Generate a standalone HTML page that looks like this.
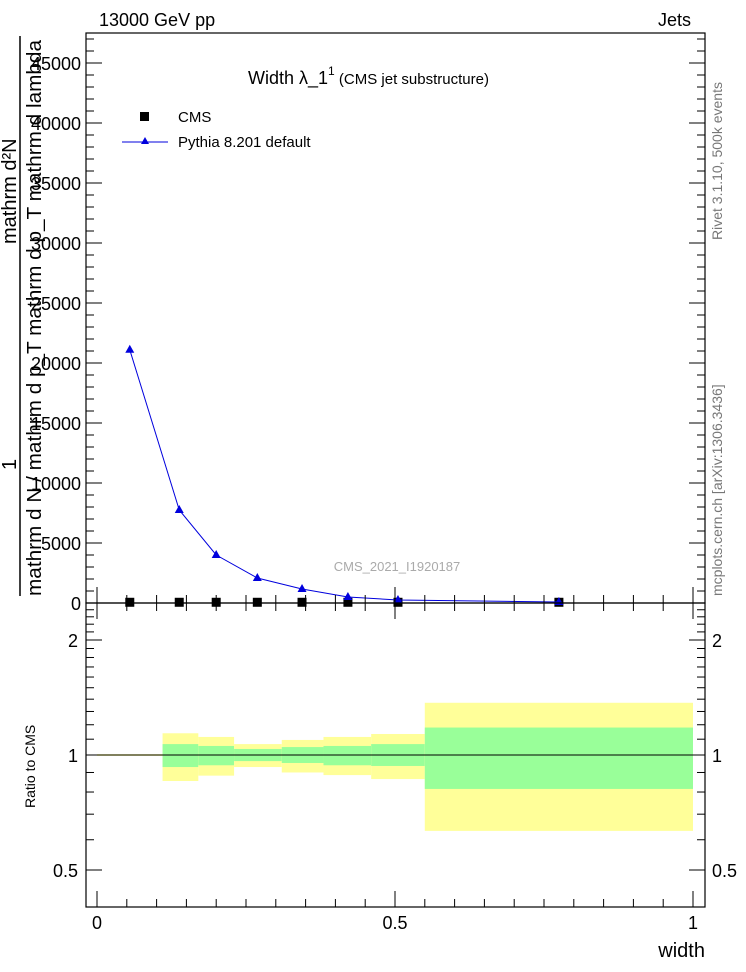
<!DOCTYPE html>
<html><head><meta charset="utf-8"><style>
html,body{margin:0;padding:0;background:#fff;}
svg{display:block;font-family:"Liberation Sans",sans-serif;}
</style></head><body>
<svg id="chart" width="746" height="972" viewBox="0 0 746 972" xmlns="http://www.w3.org/2000/svg">
<g id="bands"></g>
<g id="marks"></g>
<g id="axes"></g>
<text x="99" y="26" font-size="18">13000 GeV pp</text>
<text x="691" y="26" font-size="18" text-anchor="end">Jets</text>
<text x="248" y="84" font-size="18">Width λ_1<tspan font-size="12" dy="-9">1</tspan><tspan font-size="15" dy="9"> (CMS jet substructure)</tspan></text>
<g>
<rect x="140" y="112" width="9" height="9" fill="#000"/>
<text x="178" y="122" font-size="15">CMS</text>
<line x1="122" y1="142" x2="168" y2="142" stroke="#0000dd" stroke-width="1"/>
<polygon points="145,137 149,144 141,144" fill="#0000dd"/>
<text x="178" y="147" font-size="15">Pythia 8.201 default</text>
</g>
<text x="397" y="571" font-size="13" fill="#aaa" text-anchor="middle">CMS_2021_I1920187</text>
<text transform="translate(722,240) rotate(-90)" font-size="14" fill="#777">Rivet 3.1.10,  500k events</text>
<text transform="translate(722,596) rotate(-90)" font-size="14" fill="#777">mcplots.cern.ch [arXiv:1306.3436]</text>
<g font-size="20">
<text transform="translate(16,244) rotate(-90)">mathrm d²N</text>
<text transform="translate(41,596) rotate(-90)" textLength="556" lengthAdjust="spacingAndGlyphs">mathrm d N / mathrm d p_T mathrm d p_T mathrm d lambda</text>
<line x1="20" y1="596" x2="20" y2="36" stroke="#000" stroke-width="1.5"/>
<text transform="translate(16,470) rotate(-90)">1</text>
</g>
<text transform="translate(35,808) rotate(-90)" font-size="14">Ratio to CMS</text>
<text x="705" y="957" font-size="20" text-anchor="end">width</text>
</svg>
<script>
const binEdges=[0,0.11,0.17,0.23,0.31,0.38,0.46,0.55,1.0];
const binCenters=[0.055,0.138,0.200,0.269,0.344,0.421,0.505,0.775];
const cmsValues=[60,60,60,60,60,60,60,60];
const pythiaValues=[21100,7750,4000,2080,1170,500,250,80];
const yellowHi=[1.005,1.14,1.115,1.068,1.095,1.115,1.135,1.37];
const greenHi=[1.003,1.068,1.056,1.037,1.049,1.056,1.068,1.18];
const greenLo=[0.997,0.93,0.94,0.964,0.953,0.94,0.936,0.815];
const yellowLo=[0.995,0.855,0.883,0.93,0.90,0.886,0.865,0.633];
const yTicks=[0,5000,10000,15000,20000,25000,30000,35000,40000,45000];
const yTickLabels=["0","5000","10000","15000","20000","25000","30000","35000","40000","45000"];
const xTicks=[0,0.5,1];
const xTickLabels=["0","0.5","1"];
const rTicks=[0.5,1,2];
const rTickLabels=["0.5","1","2"];

const L=86,R=705,T=33,M=603,B=907;
const xs=v=>97+v*596;
const ys=v=>603-v*0.012;
const rs=v=>755-Math.log2(v)*115;
const NS="http://www.w3.org/2000/svg";
function mk(tag,attrs,parent){const e=document.createElementNS(NS,tag);for(const k in attrs)e.setAttribute(k,attrs[k]);parent.appendChild(e);return e;}
const bands=document.getElementById('bands'),marks=document.getElementById('marks'),axes=document.getElementById('axes');

for(let i=0;i<binCenters.length;i++){
  const x0=Math.max(xs(binEdges[i]),L+1),x1=Math.min(xs(binEdges[i+1]),R-1);
  const y=mk('rect',{x:x0,y:rs(yellowHi[i]),width:x1-x0,height:rs(yellowLo[i])-rs(yellowHi[i]),fill:'#ffff99'},bands);
  
  
  const g=mk('rect',{x:x0,y:rs(greenHi[i]),width:x1-x0,height:rs(greenLo[i])-rs(greenHi[i]),fill:'#99ff99'},bands);
  
  
}
const rl=mk('line',{x1:L,y1:rs(1),x2:R,y2:rs(1),stroke:'#000','stroke-width':1},bands);



for(let i=0;i<binCenters.length;i++){
  const s=mk('rect',{x:xs(binCenters[i])-4.5,y:ys(cmsValues[i])-4.5,width:9,height:9,fill:'#000'},marks);
  
  
}
const pl=mk('polyline',{points:binCenters.map((c,i)=>xs(c)+','+ys(pythiaValues[i])).join(' '),fill:'none',stroke:'#0000dd','stroke-width':1},marks);


for(let i=0;i<binCenters.length;i++){
  const x=xs(binCenters[i]),y=ys(pythiaValues[i]);
  const t=mk('polygon',{points:`${x},${y-5} ${x+4.5},${y+3} ${x-4.5},${y+3}`,fill:'#0000dd'},marks);
  
  
}

const f=mk('rect',{x:L,y:T,width:R-L,height:M-T,fill:'none',stroke:'#000','stroke-width':1.2},axes);


const f2=mk('rect',{x:L,y:M,width:R-L,height:B-M,fill:'none',stroke:'#000','stroke-width':1.2},axes);



for(let v=0;v<=47000;v+=1000){
  const y=ys(v);if(y<T)break;
  const len=v%5000===0?16:8;
  mk('line',{x1:L,y1:y,x2:L+len,y2:y,stroke:'#000'},axes);
  mk('line',{x1:R,y1:y,x2:R-len,y2:y,stroke:'#000'},axes);
}
yTicks.forEach((v,i)=>{
  const t=mk('text',{x:81,y:ys(v)+7,'font-size':18,'text-anchor':'end'},axes);
  t.textContent=yTickLabels[i];
  
  
});
for(let k=0;k<=20;k++){
  const v=k*0.05,x=xs(v);if(x>R)break;
  const len=k%10===0?16:8;
  mk('line',{x1:x,y1:M,x2:x,y2:M-len,stroke:'#000'},axes);
  mk('line',{x1:x,y1:M,x2:x,y2:M+len,stroke:'#000'},axes);
  mk('line',{x1:x,y1:B,x2:x,y2:B-len,stroke:'#000'},axes);
}
xTicks.forEach((v,i)=>{
  const t=mk('text',{x:xs(v),y:929,'font-size':18,'text-anchor':'middle'},axes);
  t.textContent=xTickLabels[i];
  
  
});
for(let k=4;k<=25;k++){
  const v=k/10,y=rs(v);if(y<M||y>B)continue;
  const len=(v===0.5||v===1||v===2)?16:8;
  mk('line',{x1:L,y1:y,x2:L+len,y2:y,stroke:'#000'},axes);
  mk('line',{x1:R,y1:y,x2:R-len,y2:y,stroke:'#000'},axes);
}
rTicks.forEach((v,i)=>{
  const t=mk('text',{x:78,y:rs(v)+7,'font-size':18,'text-anchor':'end'},axes);
  t.textContent=rTickLabels[i];
  
  
  const t2=mk('text',{x:712,y:rs(v)+7,'font-size':18},axes);
  t2.textContent=rTickLabels[i];
  
  
});
</script>
</body></html>
